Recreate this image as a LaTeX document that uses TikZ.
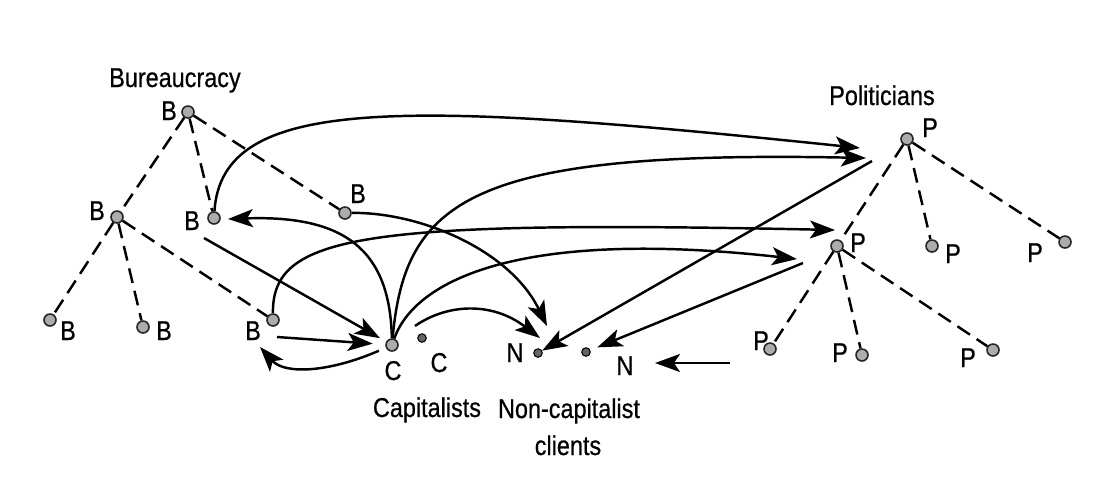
\documentclass[tikz,border=0pt]{standalone}
\usepackage{fontspec}
\setmainfont[FakeStretch=0.86,FakeBold=0.6]{Liberation Sans}
\usetikzlibrary{arrows.meta}

\begin{document}
\begin{tikzpicture}[
  x=0.02cm,y=-0.02cm,
  dot/.style={circle, draw=black!85, fill=gray!65, line width=0.9pt, inner sep=0pt, minimum size=0.24cm},
  sdot/.style={circle, draw, fill=black!60, line width=0.6pt, inner sep=0pt, minimum size=0.17cm},
  lbl/.style={anchor=base, inner sep=0pt, font=\fontsize{15.5}{18}\selectfont},
  tie/.style={line width=1.4pt, dash pattern=on 0.3cm off 0.16cm},
  arrow/.style={-{Stealth[length=0.5cm, width=0.36cm, inset=0.12cm]}, line width=1.4pt}
]
\useasboundingbox (0,0) rectangle (1096,495);

% bureaucracy
\node[dot] (b1) at (188,112) {};
\node[dot] (b2) at (117,217) {};
\node[dot] (b3) at (214,218) {};
\node[dot] (b4) at (345,213) {};
\node[dot] (b5) at (50,320) {};
\node[dot] (b6) at (143,327) {};
\node[dot] (b7) at (273,320) {};

% capitalists and clients
\node[dot] (c1) at (392,345) {};
\node[sdot] (c2) at (422,338) {};
\node[sdot] (n1) at (538,353) {};
\node[sdot] (n2) at (586,352) {};

% politicians
\node[dot] (p1) at (907,139) {};
\node[dot] (p2) at (837,246) {};
\node[dot] (p3) at (932,246) {};
\node[dot] (p4) at (1065,242) {};
\node[dot] (p5) at (770,349) {};
\node[dot] (p6) at (862,355) {};
\node[dot] (p7) at (993,350) {};

\node[lbl] (lbur) at (175,87) {Bureaucracy};
\node[lbl] (lb1) at (169,120) {B};
\node[lbl] (lb2) at (97,220) {B};
\node[lbl] (lb3) at (192,230) {B};
\node[lbl] (lb4) at (358,203) {B};
\node[lbl] (lb5) at (68,340) {B};
\node[lbl] (lb6) at (164,340) {B};
\node[lbl] (lb7) at (253,340) {B};
\node[lbl] (lc1) at (393,380) {C};
\node[lbl] (lc2) at (439,372) {C};
\node[lbl] (ln1) at (515,362) {N};
\node[lbl] (ln2) at (625,375) {N};
\node[lbl] (lcap) at (427,417) {Capitalists};
\node[lbl] (lnon) at (569,418) {Non-capitalist};
\node[lbl] (lcli) at (568,455) {clients};
\node[lbl] (lpol) at (882,105) {Politicians};
\node[lbl] (lp1) at (930,137) {P};
\node[lbl] (lp2) at (858,252) {P};
\node[lbl] (lp3) at (953,263) {P};
\node[lbl] (lp4) at (1035,262) {P};
\node[lbl] (lp5) at (761,350) {P};
\node[lbl] (lp6) at (840,362) {P};
\node[lbl] (lp7) at (968,367) {P};

% hierarchies
\draw[tie] (b1) -- (b2);
\draw[tie] (b1) -- (b3);
\draw[tie] (b1) -- (b4);
\draw[tie] (b2) -- (b5);
\draw[tie] (b2) -- (b6);
\draw[tie] (b2) -- (b7);
\draw[tie] (p1) -- (p2);
\draw[tie] (p1) -- (p3);
\draw[tie] (p1) -- (p4);
\draw[tie] (p2) -- (p5);
\draw[tie] (p2) -- (p6);
\draw[tie] (p2) -- (p7);

% free ends
\coordinate (tp1) at (860,148);
\coordinate (tp1b) at (866,158);
\coordinate (sp1) at (872,161);
\coordinate (tp2) at (835,230);
\coordinate (tp2b) at (797,259);
\coordinate (sp2) at (803,263);
\coordinate (sn) at (730,363);
\coordinate (tn) at (655,363);
\coordinate (tn1a) at (547,326);
\coordinate (tn1b) at (540,338);
\coordinate (sc2) at (415,326);
\coordinate (sb3) at (204,238);
\coordinate (sb7) at (277,337);
\coordinate (tb3) at (228,219);
\coordinate (tb7) at (260,347);

% exchanges
\draw[arrow] (b3) .. controls (222,95) and (400,100) .. (tp1);
\draw[arrow] (c1) .. controls (405,200) and (470,150) .. (tp1b);
\draw[arrow] (sp1) -- (n1);
\draw[arrow] (b7) .. controls (272,235) and (360,220) .. (tp2);
\draw[arrow] (c1) .. controls (415,280) and (520,228) .. (tp2b);
\draw[arrow, shorten >=0.15cm] (sp2) -- (n2);
\draw[arrow] (sn) -- (tn);
\draw[arrow] (b4) .. controls (420,212) and (510,250) .. (tn1a);
\draw[arrow] (sc2) .. controls (445,305) and (490,300) .. (tn1b);
\draw[arrow] (c1) .. controls (390,250) and (345,215) .. (tb3);
\draw[arrow, shorten >=0.14cm] (sb3) -- (c1);
\draw[arrow, shorten >=0.25cm] (sb7) -- (c1);
\draw[arrow, shorten <=0.15cm] (c1) .. controls (330,372) and (285,375) .. (tb7);
\end{tikzpicture}
\end{document}
